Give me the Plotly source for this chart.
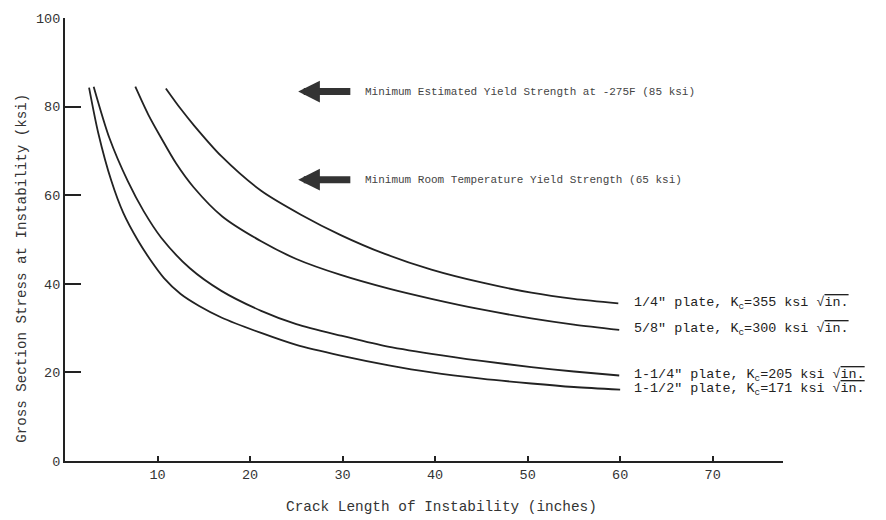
import plotly.graph_objects as go

# Crack length (inches) and gross section stress (ksi)
x_quarter = [10.9, 12.5, 14.0, 16.9, 21.2, 25.5, 29.8, 34.5, 39.6, 45.0, 50.4, 55.0, 59.8]
y_quarter = [84.1, 79.5, 75.6, 68.8, 61.0, 55.6, 51.0, 46.8, 43.2, 40.3, 38.0, 36.6, 35.6]

x_five8 = [7.6, 9.0, 10.4, 12.0, 13.9, 17.0, 21.2, 25.0, 29.8, 35.0, 39.6, 45.0, 50.4, 55.0, 59.9]
y_five8 = [84.5, 78.2, 72.9, 67.2, 61.8, 55.2, 49.6, 45.6, 42.0, 38.9, 36.6, 34.2, 32.2, 30.8, 29.6]

x_one14 = [3.1, 4.8, 6.8, 8.5, 10.4, 13.5, 16.9, 21.2, 25.0, 29.8, 34.5, 39.6, 45.0, 50.4, 55.0, 59.9]
y_one14 = [84.5, 72.9, 63.1, 56.4, 50.4, 43.5, 38.4, 33.9, 30.9, 28.3, 26.0, 24.2, 22.6, 21.2, 20.2, 19.3]

x_one12 = [2.6, 3.6, 5.0, 6.3, 7.9, 9.2, 10.7, 12.5, 14.5, 16.9, 21.2, 25.0, 29.8, 35.0, 39.6, 45.0, 50.4, 55.0, 60.0]
y_one12 = [84.3, 74.0, 63.3, 56.0, 49.7, 45.5, 41.3, 37.7, 35.0, 32.4, 28.9, 26.2, 23.8, 21.6, 20.0, 18.6, 17.5, 16.7, 16.1]

series = [
    (x_quarter, y_quarter, '1/4" plate, K<sub>c</sub>=355 ksi √<span style="text-decoration:overline">in.</span>'),
    (x_five8, y_five8, '5/8" plate, K<sub>c</sub>=300 ksi √<span style="text-decoration:overline">in.</span>'),
    (x_one14, y_one14, '1-1/4" plate, K<sub>c</sub>=205 ksi √<span style="text-decoration:overline">in.</span>'),
    (x_one12, y_one12, '1-1/2" plate, K<sub>c</sub>=171 ksi √<span style="text-decoration:overline">in.</span>'),
]

x_ticks = [10, 20, 30, 40, 50, 60, 70]
y_ticks = [0, 20, 40, 60, 80, 100]

yield_levels = [83.4, 63.5]
yield_texts = [
    "Minimum Estimated Yield Strength at -275F (85 ksi)",
    "Minimum Room Temperature Yield Strength (65 ksi)",
]

FONT = "Liberation Mono, Courier New, monospace"
INK = "#222222"

fig = go.Figure()
annotations = []
for xs, ys, label in series:
    fig.add_trace(go.Scatter(x=xs, y=ys, mode="lines",
                             line=dict(color=INK, width=1.8, shape="spline", smoothing=0.8),
                             showlegend=False, hoverinfo="skip"))
    annotations.append(dict(x=61.3, y=ys[-1], xref="x", yref="y", text=label,
                            showarrow=False, xanchor="left", yanchor="middle",
                            font=dict(family=FONT, size=13.4, color=INK)))

for lvl, txt in zip(yield_levels, yield_texts):
    annotations.append(dict(x=25.2, y=lvl, ax=31.0, ay=lvl, xref="x", yref="y",
                            axref="x", ayref="y", text="", showarrow=True,
                            arrowhead=2, arrowsize=0.62, arrowwidth=7,
                            arrowcolor="#333333"))
    annotations.append(dict(x=32.2, y=lvl, xref="x", yref="y", text=txt,
                            showarrow=False, xanchor="left", yanchor="middle",
                            font=dict(family=FONT, size=11, color="#444444")))

annotations.append(dict(x=0.524, y=-0.103, xref="paper", yref="paper",
                        text="Crack Length of Instability (inches)", showarrow=False,
                        xanchor="center", yanchor="middle",
                        font=dict(family=FONT, size=14.4, color="#333333")))
annotations.append(dict(x=-0.06, y=0.436, xref="paper", yref="paper",
                        text="Gross Section Stress at Instability (ksi)", showarrow=False,
                        textangle=-90, xanchor="center", yanchor="middle",
                        font=dict(family=FONT, size=14.2, color="#333333")))

fig.update_layout(
    width=886, height=520,
    margin=dict(l=65, r=103, t=15, b=59),
    paper_bgcolor="white", plot_bgcolor="white",
    annotations=annotations,
    xaxis=dict(range=[0, 77.6], showgrid=False, zeroline=False, showline=True,
               linecolor=INK, linewidth=2, ticks="inside", ticklen=5, tickwidth=1.5,
               tickcolor=INK, tickvals=x_ticks,
               tickfont=dict(family=FONT, size=13.5, color="#333333")),
    yaxis=dict(range=[0, 100], showgrid=False, zeroline=False, showline=True,
               linecolor=INK, linewidth=2, ticks="inside", ticklen=16, tickwidth=2,
               tickcolor=INK, tickvals=y_ticks,
               tickfont=dict(family=FONT, size=13.5, color="#333333")),
)

fig.write_html("out.html")
